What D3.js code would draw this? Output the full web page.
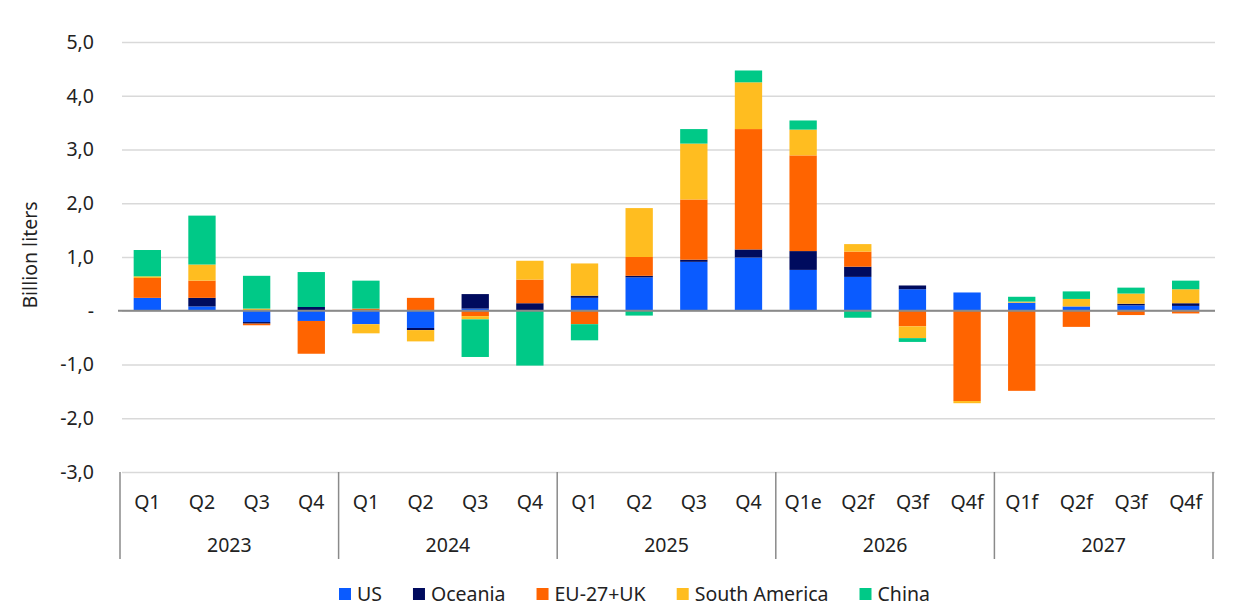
<!DOCTYPE html>
<html lang="en">
<head>
    <meta charset="UTF-8">
    <title>Quarterly change by region</title>
    <script src="https://d3js.org/d3.v7.min.js"></script>
    <style>
        body { margin: 0; background: #fff; }
        text { font-family: "Noto Sans", sans-serif; fill: #222; }
        .grid line { stroke: #d9d9d9; stroke-width: 1.5px; }
        .grid .domain { display: none; }
        .tick text { font-size: 19px; }
    </style>
</head>
<body>

<svg width="1237" height="612"></svg>

<script>
    const quarters = ["Q1", "Q2", "Q3", "Q4", "Q1", "Q2", "Q3", "Q4", "Q1", "Q2", "Q3", "Q4",
                      "Q1e", "Q2f", "Q3f", "Q4f", "Q1f", "Q2f", "Q3f", "Q4f"];
    const years = ["2023", "2024", "2025", "2026", "2027"];
    const yTicks = [5, 4, 3, 2, 1, 0, -1, -2, -3];

    const us           = [0.24, 0.08, -0.21, -0.19, -0.25, -0.32, 0.04, 0.00, 0.24, 0.62, 0.91, 0.99, 0.76, 0.63, 0.40, 0.34, 0.15, 0.08, 0.10, 0.09];
    const oceania      = [0.00, 0.16, -0.03, 0.07, 0.00, -0.04, 0.27, 0.14, 0.04, 0.03, 0.04, 0.15, 0.35, 0.19, 0.07, 0.00, 0.00, 0.00, 0.03, 0.05];
    const eu           = [0.37, 0.32, -0.03, -0.61, 0.04, 0.24, -0.10, 0.44, -0.25, 0.35, 1.12, 2.24, 1.78, 0.28, -0.29, -1.68, -1.49, -0.30, -0.08, -0.05];
    const southAmerica = [0.03, 0.30, 0.04, 0.00, -0.17, -0.21, -0.06, 0.35, 0.60, 0.91, 1.04, 0.87, 0.48, 0.14, -0.22, -0.04, 0.02, 0.14, 0.19, 0.26];
    const china        = [0.49, 0.91, 0.61, 0.65, 0.52, 0.00, -0.70, -1.02, -0.30, -0.09, 0.27, 0.22, 0.17, -0.13, -0.07, 0.00, 0.09, 0.14, 0.11, 0.16];

    const seriesNames = ["US", "Oceania", "EU-27+UK", "South America", "China"];
    const seriesData = [us, oceania, eu, southAmerica, china];
    const colors = ["#0a5bff", "#000b5e", "#ff6400", "#ffbd20", "#00c987"];

    const svg = d3.select("svg");
    const plotLeft = 120, plotRight = 1213, plotTop = 42, plotBottom = 472;
    const fontSize = 19.5;

    const rows = quarters.map((q, i) => {
        const r = { i: i };
        seriesNames.forEach((s, k) => r[s] = seriesData[k][i]);
        return r;
    });

    const x = d3.scaleBand()
        .domain(d3.range(quarters.length))
        .range([plotLeft, plotRight])
        .paddingInner(0.5)
        .paddingOuter(0.25);

    const y = d3.scaleLinear().domain([-3, 5]).range([plotBottom, plotTop]);

    // gridlines + y labels (comma decimals, plain hyphen, "-" for zero)
    svg.append("g")
        .attr("class", "grid")
        .attr("transform", `translate(${plotLeft},0)`)
        .call(d3.axisLeft(y)
            .tickValues(yTicks)
            .tickSize(-(plotRight - plotLeft + 2))
            .tickPadding(26)
            .tickFormat(d => d === 0 ? "-" : (d < 0 ? "-" : "") + Math.abs(d).toFixed(1).replace(".", ",")))
        .call(g => g.selectAll(".tick line").attr("x1", 2))
        .call(g => g.selectAll(".tick text").style("font-size", fontSize + "px"));

    const stack = d3.stack()
        .keys(seriesNames)
        .offset(d3.stackOffsetDiverging);

    const layers = stack(rows);

    svg.append("g")
        .selectAll("g")
        .data(layers)
        .enter().append("g")
        .attr("fill", (d, k) => colors[k])
        .selectAll("rect")
        .data(d => d)
        .enter().append("rect")
        .attr("x", d => x(d.data.i))
        .attr("width", x.bandwidth())
        .attr("y", d => y(Math.max(d[0], d[1])))
        .attr("height", d => Math.abs(y(d[0]) - y(d[1])));

    // zero line on top
    svg.append("line")
        .attr("x1", plotLeft - 2).attr("x2", plotRight + 2)
        .attr("y1", y(0)).attr("y2", y(0))
        .attr("stroke", "#8a8a8a").attr("stroke-width", 2);

    // category axis
    const axisG = svg.append("g");
    axisG.selectAll(".qlabel")
        .data(quarters)
        .enter().append("text")
        .attr("x", (d, i) => x(i) + x.bandwidth() / 2)
        .attr("y", 509)
        .attr("text-anchor", "middle")
        .attr("font-size", fontSize)
        .text(d => d);

    const groupW = x.step() * 4;
    axisG.selectAll(".divider")
        .data(d3.range(years.length + 1))
        .enter().append("line")
        .attr("x1", d => plotLeft + d * groupW)
        .attr("x2", d => plotLeft + d * groupW)
        .attr("y1", plotBottom)
        .attr("y2", 559)
        .attr("stroke", "#8a8a8a")
        .attr("stroke-width", 1.5);

    axisG.selectAll(".ylabel")
        .data(years)
        .enter().append("text")
        .attr("x", (d, i) => plotLeft + i * groupW + groupW / 2)
        .attr("y", 552)
        .attr("text-anchor", "middle")
        .attr("font-size", fontSize)
        .text(d => d);

    // y title
    svg.append("text")
        .attr("transform", "translate(37,255) rotate(-90)")
        .attr("text-anchor", "middle")
        .attr("font-size", fontSize)
        .text("Billion liters");

    // legend
    const legend = svg.append("g").attr("transform", "translate(339,594)");
    let lx = 0;
    seriesNames.forEach((name, k) => {
        const item = legend.append("g").attr("transform", `translate(${lx},0)`);
        item.append("rect")
            .attr("x", 0).attr("y", -6)
            .attr("width", 12).attr("height", 12)
            .attr("fill", colors[k]);
        const t = item.append("text")
            .attr("x", 18).attr("y", 7)
            .attr("font-size", fontSize)
            .text(name);
        lx += 18 + t.node().getComputedTextLength() + 31;
    });
</script>

</body>
</html>
